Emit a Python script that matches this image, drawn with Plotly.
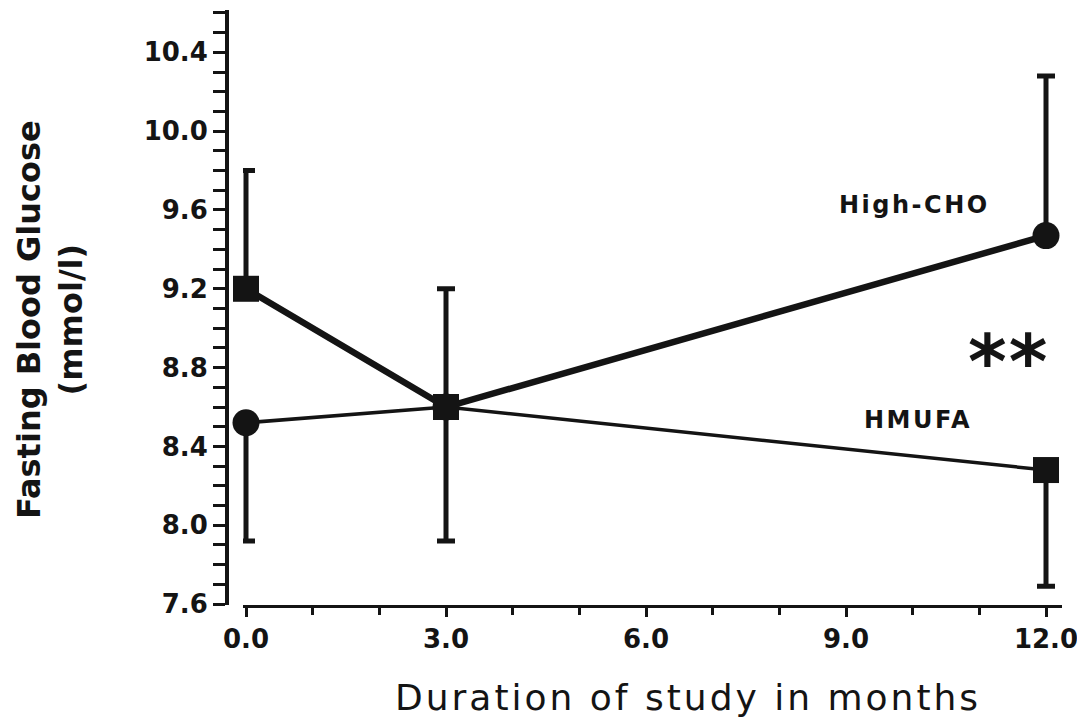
import plotly.graph_objects as go

# ---- data ----
months = [0, 3, 12]
high_cho = [8.52, 8.60, 9.47]          # circles
high_cho_err_up = [0.0, 0.60, 0.81]
high_cho_err_down = [0.60, 0.0, 0.0]
hmufa = [9.20, 8.60, 8.28]             # squares
hmufa_err_up = [0.60, 0.0, 0.0]
hmufa_err_down = [0.0, 0.68, 0.59]
series_labels = ["High-CHO", "HMUFA"]
y_title = "Fasting Blood Glucose<br>(mmol/l)"
x_title = "Duration of study in months"
signif = "**"

# connecting lines as drawn in the original figure
thick_line = [hmufa[0], hmufa[1], high_cho[2]]
thin_line = [high_cho[0], high_cho[1], hmufa[2]]

W, H = 1077, 723
ML, MR, MT, MB = 227, 15, 10, 118
PW, PH = W - ML - MR, H - MT - MB


def px(x):
    return (x - ML) / PW


def py(y):
    return (H - MB - y) / PH


def spaced(t, s):
    return '<span style="letter-spacing:%spx">%s</span>' % (s, t)


INK = "#141414"
fig = go.Figure()

fig.add_trace(go.Scatter(x=months, y=thin_line, mode="lines",
                         line=dict(color=INK, width=3.5), cliponaxis=False,
                         showlegend=False, hoverinfo="skip"))
fig.add_trace(go.Scatter(x=months, y=thick_line, mode="lines",
                         line=dict(color=INK, width=6.5), cliponaxis=False,
                         showlegend=False, hoverinfo="skip"))

fig.add_trace(go.Scatter(
    x=months, y=high_cho, mode="markers", name=series_labels[0],
    marker=dict(symbol="circle", size=27, color=INK),
    error_y=dict(type="data", symmetric=False, array=high_cho_err_up,
                 arrayminus=high_cho_err_down, color=INK, thickness=5, width=9),
    cliponaxis=False, showlegend=False))
fig.add_trace(go.Scatter(
    x=months, y=hmufa, mode="markers", name=series_labels[1],
    marker=dict(symbol="square", size=26, color=INK),
    error_y=dict(type="data", symmetric=False, array=hmufa_err_up,
                 arrayminus=hmufa_err_down, color=INK, thickness=5, width=9),
    cliponaxis=False, showlegend=False))

tickfont = dict(family="DejaVu Sans", size=26, color=INK, weight="bold")
labfont = dict(family="DejaVu Sans", size=24, color=INK, weight="bold")

fig.update_layout(
    width=W, height=H,
    margin=dict(l=ML, r=MR, t=MT, b=MB, autoexpand=False),
    paper_bgcolor="white", plot_bgcolor="white",
    xaxis=dict(domain=[px(243), 1], range=[-0.045, 12.24],
               tickmode="linear", tick0=0, dtick=3, tickformat=".1f",
               ticks="outside", ticklen=9, tickwidth=3, tickcolor=INK,
               minor=dict(dtick=1, tick0=0, ticks="outside", ticklen=7,
                          tickwidth=3, tickcolor=INK),
               showline=True, linewidth=3, linecolor=INK,
               ticklabeloverflow="allow", automargin=False,
               showgrid=False, zeroline=False, tickfont=tickfont),
    yaxis=dict(anchor="free", position=0, range=[7.595, 10.615],
               tickmode="linear", tick0=7.6, dtick=0.4, tickformat=".1f",
               ticks="outside", ticklen=12, tickwidth=3, tickcolor=INK,
               minor=dict(dtick=0.1, tick0=7.6, ticks="outside", ticklen=12,
                          tickwidth=3, tickcolor=INK),
               showline=True, linewidth=4, linecolor=INK,
               ticklabeloverflow="allow", automargin=False,
               showgrid=False, zeroline=False, tickfont=tickfont),
    annotations=[
        dict(x=px(914), y=py(205), xref="paper", yref="paper",
             xanchor="center", yanchor="middle",
             text=spaced(series_labels[0], 2.5), showarrow=False, font=labfont),
        dict(x=px(918), y=py(420), xref="paper", yref="paper",
             xanchor="center", yanchor="middle",
             text=spaced(series_labels[1], 2.5), showarrow=False, font=labfont),
        dict(x=px(1008), y=py(362), xref="paper", yref="paper",
             xanchor="center", yanchor="middle",
             text=spaced(signif, 2), showarrow=False,
             font=dict(family="DejaVu Sans", size=74, color=INK, weight="bold")),
        dict(x=px(50), y=py(320), xref="paper", yref="paper",
             xanchor="center", yanchor="middle",
             text=y_title, showarrow=False, textangle=-90,
             font=dict(family="DejaVu Sans", size=32, color=INK, weight="bold")),
        dict(x=px(688), y=py(698), xref="paper", yref="paper",
             xanchor="center", yanchor="middle",
             text=spaced(x_title, 3), showarrow=False,
             font=dict(family="DejaVu Sans", size=36, color=INK)),
    ],
)

fig.write_html("out.html")
